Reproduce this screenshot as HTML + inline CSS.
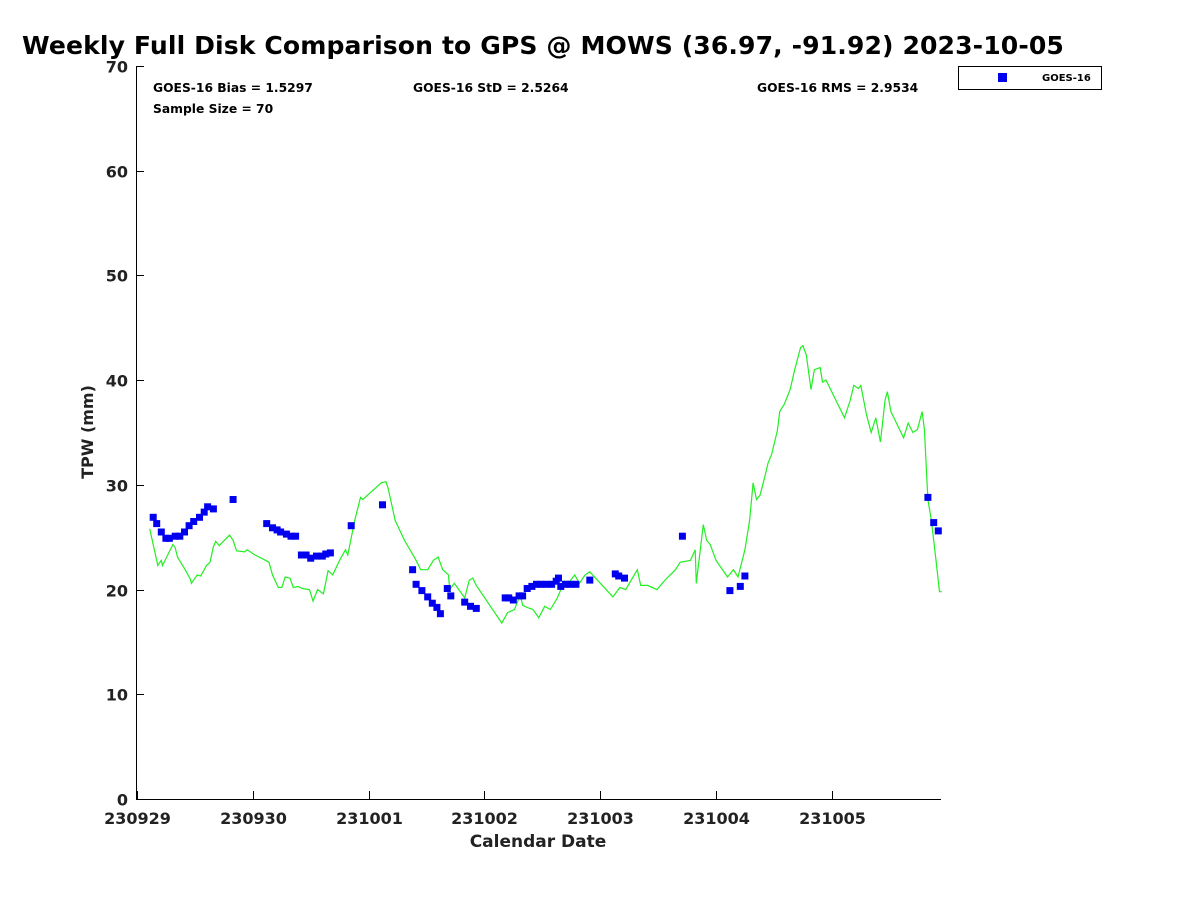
<!DOCTYPE html>
<html><head><meta charset="utf-8"><style>
body{margin:0;background:#fff;font-family:"Liberation Sans","DejaVu Sans",sans-serif;}
svg text{font-family:"DejaVu Sans","Liberation Sans",sans-serif;font-weight:bold;}
</style></head><body>
<svg id="chart" width="1200" height="900" xmlns="http://www.w3.org/2000/svg">
<rect width="1200" height="900" fill="#fff"/>
<text x="22" y="54" font-size="25.1" letter-spacing="0.1" fill="#000">Weekly Full Disk Comparison to GPS @ MOWS (36.97, -91.92) 2023-10-05</text>
<g id="axes"></g>
<g id="series"></g>
<text x="153" y="92" font-size="12.3">GOES-16 Bias = 1.5297</text>
<text x="153" y="113" font-size="12.3">Sample Size = 70</text>
<text x="413" y="92" font-size="12.3">GOES-16 StD = 2.5264</text>
<text x="757" y="92" font-size="12.3">GOES-16 RMS = 2.9534</text>
<g>
<rect x="958.5" y="66.5" width="143" height="23" fill="#fff" stroke="#000" stroke-width="1"/>
<rect x="998" y="73" width="9" height="9" fill="#0000ee"/>
<text x="1042" y="81" font-size="10">GOES-16</text>
</g>
<text x="538" y="847" font-size="17" text-anchor="middle" fill="#222">Calendar Date</text>
<text transform="translate(93,432) rotate(-90)" font-size="16" text-anchor="middle" fill="#222">TPW (mm)</text>
</svg>
<script>
const xTickLabels=["230929","230930","231001","231002","231003","231004","231005"];
const yTickValues=[0,10,20,30,40,50,60,70];
const gpsDays=[0.11,0.16,0.18,0.21,0.22,0.31,0.33,0.35,0.41,0.46,0.47,0.52,0.55,0.60,0.63,0.66,0.68,0.71,0.80,0.83,0.86,0.93,0.95,1.02,1.11,1.14,1.17,1.22,1.25,1.28,1.32,1.35,1.39,1.43,1.49,1.52,1.56,1.61,1.65,1.69,1.75,1.80,1.82,1.88,1.93,1.95,2.11,2.15,2.17,2.23,2.31,2.40,2.45,2.51,2.56,2.60,2.64,2.69,2.70,2.74,2.83,2.87,2.90,2.93,3.15,3.20,3.26,3.31,3.33,3.37,3.42,3.47,3.52,3.57,3.63,3.69,3.71,3.78,3.82,3.87,3.91,4.11,4.17,4.22,4.32,4.35,4.41,4.49,4.56,4.65,4.69,4.78,4.82,4.83,4.89,4.92,4.95,5.00,5.10,5.15,5.19,5.25,5.29,5.32,5.35,5.38,5.42,5.45,5.48,5.53,5.55,5.59,5.64,5.68,5.73,5.75,5.78,5.82,5.85,5.90,5.92,5.95,6.11,6.16,6.19,6.23,6.25,6.30,6.34,6.38,6.42,6.46,6.48,6.51,6.62,6.66,6.70,6.74,6.78,6.80,6.83,6.86,6.90,6.93,6.95];
const gpsTpw=[25.8,23.3,22.3,22.8,22.3,24.3,24.0,23.1,22.0,21.0,20.6,21.4,21.3,22.3,22.6,24.1,24.6,24.2,25.2,24.7,23.7,23.6,23.8,23.3,22.8,22.6,21.4,20.2,20.2,21.2,21.1,20.2,20.3,20.1,20.0,18.9,20.0,19.6,21.8,21.4,22.8,23.8,23.3,26.6,28.8,28.6,30.2,30.3,29.6,26.6,24.7,23.0,21.9,21.9,22.8,23.1,21.9,21.4,20.0,20.6,19.2,20.9,21.1,20.4,16.8,17.8,18.1,19.5,18.5,18.3,18.1,17.3,18.4,18.1,19.2,20.8,20.4,21.4,20.6,21.4,21.7,19.3,20.2,20.0,21.9,20.4,20.4,20.0,20.9,21.9,22.6,22.8,23.8,20.6,26.2,24.7,24.3,22.8,21.2,21.9,21.2,23.8,26.6,30.2,28.6,29.0,30.7,32.1,32.9,35.2,37.0,37.7,39.1,41.0,43.1,43.3,42.4,39.1,41.0,41.2,39.8,40.0,36.4,38.1,39.5,39.2,39.5,36.7,35.0,36.4,34.1,38.1,38.9,37.0,34.5,35.9,35.0,35.3,37.0,35.3,28.6,26.6,22.8,19.8,19.8];
const goesDays=[0.14,0.17,0.21,0.25,0.28,0.33,0.37,0.41,0.45,0.49,0.54,0.58,0.61,0.66,0.83,1.12,1.17,1.21,1.24,1.29,1.33,1.37,1.42,1.46,1.50,1.55,1.60,1.63,1.67,1.85,2.12,2.38,2.41,2.46,2.51,2.55,2.59,2.62,2.68,2.71,2.83,2.88,2.93,3.18,3.21,3.25,3.30,3.33,3.37,3.41,3.45,3.49,3.53,3.58,3.62,3.64,3.66,3.70,3.74,3.79,3.91,4.13,4.16,4.21,4.71,5.12,5.21,5.25,6.83,6.88,6.92];
const goesTpw=[26.9,26.3,25.5,24.9,24.9,25.1,25.1,25.5,26.1,26.5,26.9,27.4,27.9,27.7,28.6,26.3,25.9,25.7,25.5,25.3,25.1,25.1,23.3,23.3,23.0,23.2,23.2,23.4,23.5,26.1,28.1,21.9,20.5,19.9,19.3,18.7,18.3,17.7,20.1,19.4,18.8,18.4,18.2,19.2,19.2,19.0,19.4,19.4,20.1,20.3,20.5,20.5,20.5,20.5,20.8,21.1,20.3,20.5,20.5,20.5,20.9,21.5,21.3,21.1,25.1,19.9,20.3,21.3,28.8,26.4,25.6];

const L=136,R=941,T=66,B=799;
const xs=d=>137+d*115.8;
const ys=v=>B-(v/70)*(B-T);
const NS="http://www.w3.org/2000/svg";
function mk(tag,attrs,parent){const e=document.createElementNS(NS,tag);for(const k in attrs)e.setAttribute(k,attrs[k]);parent.appendChild(e);return e;}
const axes=document.getElementById('axes'),series=document.getElementById('series');
const yAxis=mk('line',{x1:L+0.5,y1:T,x2:L+0.5,y2:B,stroke:'#000'},axes);


const xAxis=mk('line',{x1:L,y1:B+0.5,x2:R,y2:B+0.5,stroke:'#000'},axes);


yTickValues.forEach(v=>{const y=Math.round(ys(v))+0.5;
 const t=mk('line',{x1:L,y1:y,x2:L+8,y2:y,stroke:'#000'},axes);
 
 
 const lb=mk('text',{x:L-8,y:y+6,'font-size':16,'text-anchor':'end',fill:'#222'},axes);lb.textContent=v;
 
 });
xTickLabels.forEach((s,i)=>{const x=Math.round(xs(i))+0.5;
 const t=mk('line',{x1:x,y1:B,x2:x,y2:B-8,stroke:'#000'},axes);
 
 
 const lb=mk('text',{x:x,y:B+25,'font-size':16,'text-anchor':'middle',fill:'#222'},axes);lb.textContent=s;
 
 });
const pts=gpsDays.map((d,i)=>xs(d).toFixed(1)+','+ys(gpsTpw[i]).toFixed(1)).join(' ');
const line=mk('polyline',{points:pts,fill:'none',stroke:'#22ee22','stroke-width':1.2},series);


goesDays.forEach((d,i)=>{const r=mk('rect',{x:(xs(d)-3.5).toFixed(1),y:(ys(goesTpw[i])-3.5).toFixed(1),width:7,height:7,fill:'#0000ee'},series);
 
 });
</script>
</body></html>
